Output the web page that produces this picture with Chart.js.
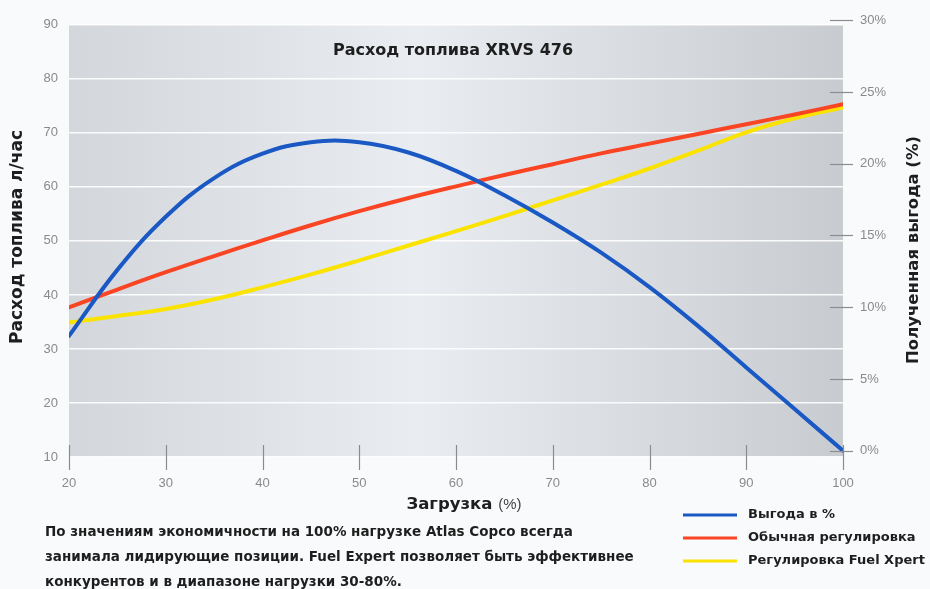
<!DOCTYPE html>
<html>
<head>
<meta charset="utf-8">
<script src="https://cdn.jsdelivr.net/npm/chart.js@4.4.1/dist/chart.umd.min.js"></script>
<style>
  html, body { margin: 0; padding: 0; background: #f8fafc; }
  #wrap { width: 930px; height: 589px; position: relative; }
</style>
</head>
<body>
<div id="wrap"><canvas id="fuel"></canvas></div>
<script>
// Load points (%), every 5%
const loads = [20, 25, 30, 35, 40, 45, 50, 55, 60, 65, 70, 75, 80, 85, 90, 95, 100];

// Gain in % (right axis)
const gainPct = [8.0, 12.6, 16.3, 19.0, 20.7, 21.5, 21.5, 20.8, 19.5, 17.8, 15.9, 13.8, 11.4, 8.7, 5.8, 2.9, 0];
// Fuel consumption l/h (left axis)
const normalReg = [37.7, 41.0, 44.2, 47.2, 50.1, 52.9, 55.5, 57.9, 60.1, 62.2, 64.2, 66.2, 68.0, 69.8, 71.6, 73.4, 75.3];
const fuelXpert = [34.9, 36.1, 37.4, 39.2, 41.4, 43.8, 46.4, 49.1, 51.8, 54.6, 57.5, 60.4, 63.4, 66.7, 70.1, 72.7, 74.7];

const xTicks = [20, 30, 40, 50, 60, 70, 80, 90, 100];
const leftTicks = [10, 20, 30, 40, 50, 60, 70, 80, 90];
const pctTicks = [0, 5, 10, 15, 20, 25, 30];

const seriesNames = ['Выгода в %', 'Обычная регулировка', 'Регулировка Fuel Xpert'];
const seriesColors = ['#1a58c4', '#fa4524', '#fbe300'];

const noteLines = [
    'По значениям экономичности на 100% нагрузке Atlas Copco всегда',
    'занимала лидирующие позиции. Fuel Expert позволяет быть эффективнее',
    'конкурентов и в диапазоне нагрузки 30-80%.'
];

const FONT = '"Liberation Sans", Arial, sans-serif';
const BOLD = '"DejaVu Sans", "Liberation Sans", sans-serif';
const toPoints = (vals) => loads.map((x, i) => ({ x: x, y: vals[i] }));

// gradient behind the plot + all the free text
const decor = {
    id: 'decor',
    beforeDraw(chart) {
        const { ctx, chartArea: a } = chart;
        const g = ctx.createLinearGradient(a.left, 0, a.right, 0);
        g.addColorStop(0, '#d3d6db');
        g.addColorStop(0.45, '#e9edf1');
        g.addColorStop(1, '#c8ccd1');
        ctx.save();
        ctx.fillStyle = g;
        ctx.fillRect(a.left, a.top, a.right - a.left, a.bottom - a.top);
        ctx.restore();
    },
    afterDraw(chart) {
        const { ctx, chartArea: a } = chart;
        const xs = chart.scales.x, yr = chart.scales.yRight;
        ctx.save();

        // tick marks crossing the bottom edge
        ctx.strokeStyle = '#8c8c8c';
        ctx.lineWidth = 1.2;
        xTicks.forEach(v => {
            const px = Math.round(xs.getPixelForValue(v)) + 0.5;
            ctx.beginPath(); ctx.moveTo(px, a.bottom - 12); ctx.lineTo(px, a.bottom + 13); ctx.stroke();
        });
        // tick marks on the right axis
        pctTicks.forEach(v => {
            const py = Math.round(yr.getPixelForValue(v)) + 0.5;
            ctx.beginPath(); ctx.moveTo(a.right - 13, py); ctx.lineTo(a.right + 10, py); ctx.stroke();
        });

        ctx.fillStyle = '#1e1e1e';
        ctx.textBaseline = 'middle';

        // title inside the plot
        ctx.font = 'bold 16px ' + BOLD;
        ctx.textAlign = 'center';
        ctx.fillText('Расход топлива XRVS 476', 453, 51);

        // axis titles (both read bottom-up)
        ctx.font = 'bold 17px ' + BOLD;
        ctx.save();
        ctx.translate(18, 237);
        ctx.rotate(-Math.PI / 2);
        ctx.fillText('Расход топлива л/час', 0, 0);
        ctx.restore();
        ctx.font = 'bold 16.5px ' + BOLD;
        ctx.save();
        ctx.translate(914, 250);
        ctx.rotate(-Math.PI / 2);
        ctx.fillText('Полученная выгода (%)', 0, 0);
        ctx.restore();

        // x title: bold word + light "(%)"
        ctx.textAlign = 'left';
        ctx.font = 'bold 16.5px ' + BOLD;
        const w1 = ctx.measureText('Загрузка ').width;
        ctx.font = '15px ' + FONT;
        const w2 = ctx.measureText('(%)').width;
        const x0 = 464 - (w1 + w2) / 2;
        ctx.font = 'bold 16.5px ' + BOLD;
        ctx.fillText('Загрузка ', x0, 505);
        ctx.font = '15px ' + FONT;
        ctx.fillStyle = '#444';
        ctx.fillText('(%)', x0 + w1, 505);

        // note under the chart
        ctx.fillStyle = '#1e1e1e';
        ctx.font = 'bold 13.5px ' + BOLD;
        noteLines.forEach((t, i) => ctx.fillText(t, 45, 532 + i * 25));

        // legend
        ctx.font = 'bold 13px ' + BOLD;
        seriesNames.forEach((name, i) => {
            const y = 515 + i * 23;
            ctx.strokeStyle = seriesColors[i];
            ctx.lineWidth = 3;
            ctx.beginPath(); ctx.moveTo(683, y); ctx.lineTo(737, y); ctx.stroke();
            ctx.fillText(name, 748, y);
        });

        ctx.restore();
    }
};

new Chart(document.getElementById('fuel'), {
    type: 'line',
    data: {
        datasets: [
            { label: seriesNames[0], data: toPoints(gainPct), yAxisID: 'yRight', borderColor: seriesColors[0] },
            { label: seriesNames[1], data: toPoints(normalReg), yAxisID: 'y', borderColor: seriesColors[1] },
            { label: seriesNames[2], data: toPoints(fuelXpert), yAxisID: 'y', borderColor: seriesColors[2] }
        ]
    },
    options: {
        responsive: true, maintainAspectRatio: false,
        animation: false,
        layout: { padding: { top: 21 } },
        elements: {
            line: { borderWidth: 4, tension: 0.4, borderCapStyle: 'round' },
            point: { radius: 0 }
        },
        plugins: { legend: { display: false }, tooltip: { enabled: false } },
        scales: {
            x: {
                type: 'linear', min: 20, max: 100,
                afterBuildTicks: (s) => { s.ticks = xTicks.map(v => ({ value: v })); },
                afterFit: (s) => { s.height = 132; },
                grid: { display: false, drawTicks: false },
                border: { display: false },
                ticks: { padding: 19, color: '#8a8a8a', font: { family: FONT, size: 13 } }
            },
            y: {
                position: 'left', min: 10, max: 90,
                afterBuildTicks: (s) => { s.ticks = leftTicks.map(v => ({ value: v })); },
                afterFit: (s) => { s.width = 69; },
                grid: { color: 'rgba(255,255,255,0.9)', lineWidth: 1.5, drawTicks: false },
                border: { display: false },
                ticks: { padding: 11, color: '#8a8a8a', font: { family: FONT, size: 13 } }
            },
            yRight: {
                position: 'right', min: -0.44, max: 29.68,
                afterBuildTicks: (s) => { s.ticks = pctTicks.map(v => ({ value: v })); },
                afterFit: (s) => { s.width = 87; },
                grid: { display: false, drawTicks: false },
                border: { display: false },
                ticks: { padding: 17, color: '#8a8a8a', font: { family: FONT, size: 13 }, callback: (v) => v + '%' }
            }
        }
    },
    plugins: [decor]
});
</script>
</body>
</html>
